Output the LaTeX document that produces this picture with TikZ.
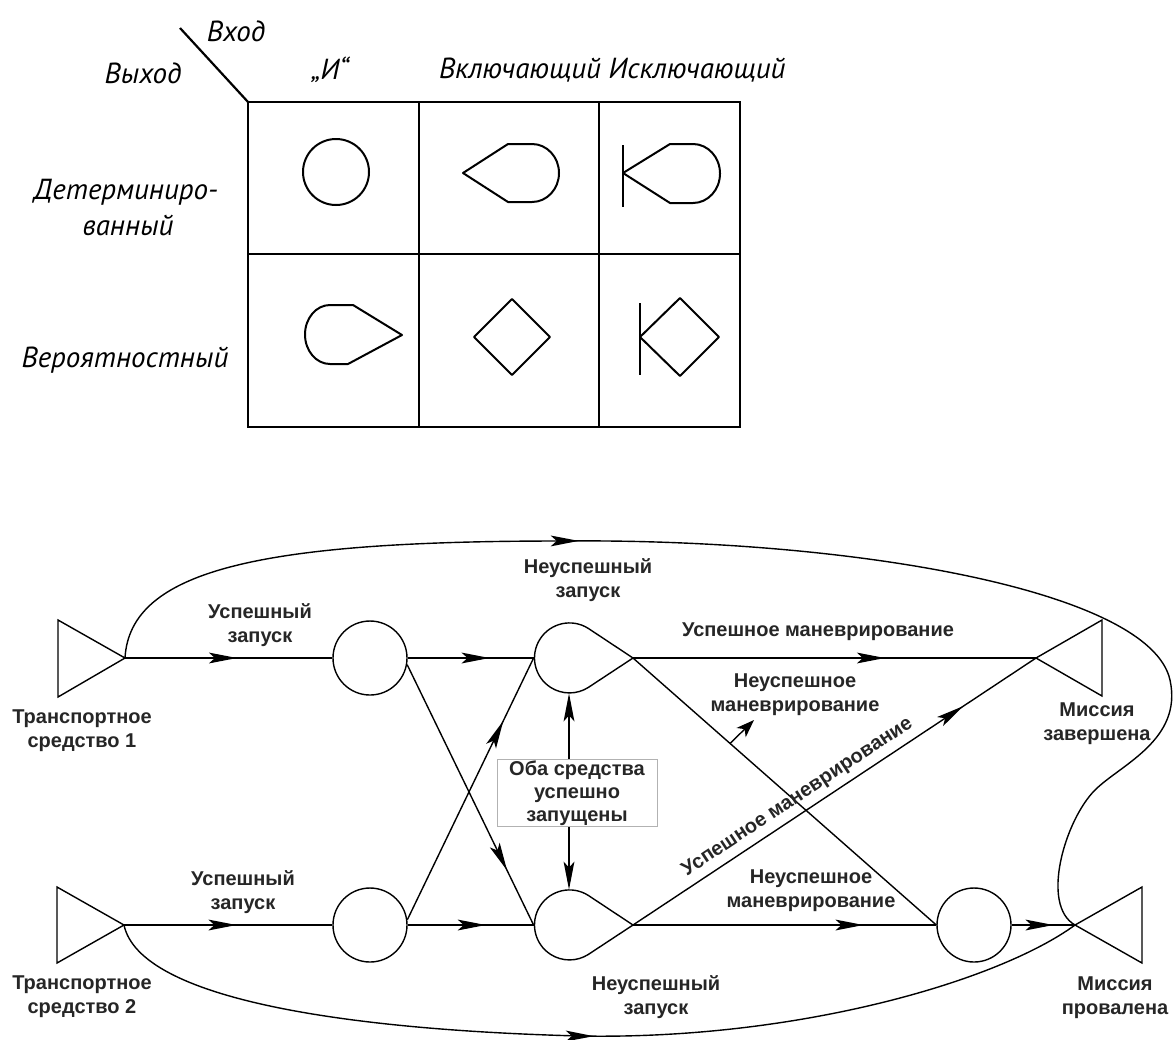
\documentclass[tikz,border=0pt]{standalone}
\usepackage{fontspec}
\setmainfont{Liberation Sans}
\newfontfamily\draftfont{PT Sans}
\usetikzlibrary{arrows.meta,decorations.markings,calc}

\begin{document}
\begin{tikzpicture}[x=0.5pt,y=-0.5pt,
  hdr/.style={font=\draftfont\itshape\fontsize{14.5}{17}\selectfont, inner sep=0},
  lbl/.style={font=\bfseries\fontsize{10}{12}\selectfont, text=black!85, align=center, inner sep=0},
  gridln/.style={line width=1.1pt},
  symln/.style={line width=1pt, line join=round},
  ln/.style={line width=0.7pt},
  headtip/.style={-{Stealth[length=14pt,width=5.4pt,inset=3pt]}},
  marr/.style={postaction={decorate}, decoration={markings,
      mark=at position #1 with {\arrow{Stealth[length=14pt,width=5.4pt,inset=3pt]}}}},
  gatec/.style={circle, inner sep=0, minimum size=#1}
]
\fill[white] (0,0) rectangle (1176,1039);
\useasboundingbox (0,0) rectangle (1176,1039);

% ---------- classification table ----------
\draw[gridln] (248,102) rectangle (740,427);
\draw[gridln] (419,102) -- (419,427);
\draw[gridln] (599,102) -- (599,427);
\draw[gridln] (248,254) -- (740,254);
\draw[gridln] (180,28) -- (248,102);

\node[hdr] (hin)  at (236,31) {Вход};
\node[hdr] (hout) at (143,73) {Выход};
\node[hdr] (hand) at (330,70) {„И“};
\node[hdr] (hinc) at (520,70) {Включающий};
\node[hdr] (hexc) at (697,70) {Исключающий};
\node[hdr] (rdet1) at (126,192) {Детерминиро-};
\node[hdr] (rdet2) at (128,225) {ванный};
\node[hdr] (rprob) at (125,360) {Вероятностный};

% deterministic AND
\draw[symln] (336,172) circle[radius=33];
% deterministic inclusive OR
\draw[symln] (463,173) -- (508,144) -- (532,144)
  arc[start angle=270, end angle=450, x radius=27, y radius=29] -- (508,202) -- cycle;
% deterministic exclusive OR
\draw[symln] (623,145) -- (623,207);
\draw[symln] (623,173) -- (670,144) -- (693,144)
  arc[start angle=270, end angle=450, x radius=27, y radius=29.5] -- (670,203) -- cycle;
% probabilistic AND
\draw[symln] (402,335) -- (353,305) -- (330,305)
  arc[start angle=270, end angle=90, x radius=25, y radius=29.5] -- (348,364) -- cycle;
% probabilistic inclusive OR
\draw[symln] (474,337) -- (512,299) -- (550,337) -- (512,375) -- cycle;
% probabilistic exclusive OR
\draw[symln] (640,303) -- (640,375);
\draw[symln] (640,337) -- (680,298) -- (719,337) -- (680,376) -- cycle;

% ---------- mission network ----------
% terminal triangles
\draw[ln] (58,620) -- (125,658) -- (58,697) -- cycle;
\coordinate (V1) at (125,658);
\draw[ln] (57,887) -- (124,925) -- (57,963) -- cycle;
\coordinate (V2) at (124,925);
\draw[ln] (1102,620) -- (1036,658) -- (1102,696) -- cycle;
\coordinate (MC) at (1036,658);
\draw[ln] (1142,887) -- (1075,925) -- (1142,963) -- cycle;
\coordinate (MF) at (1075,925);

% AND nodes
\node[gatec=37pt, draw, ln] (C1) at (370,658) {};
\node[gatec=37pt, draw, ln] (C3) at (370,925) {};
\node[gatec=37pt, draw, ln] (C4) at (974,925) {};

% probabilistic AND nodes (teardrops pointing right)
\node[gatec=35pt] (G1) at (569,658) {};
\coordinate (G1t) at (633,658);
\draw[ln] (G1t) -- (588.3,628.4) arc[start angle=-57.5, end angle=-302.5, radius=35] -- cycle;
\node[gatec=35pt] (G2) at (569,925) {};
\coordinate (G2t) at (633,925);
\draw[ln] (G2t) -- (588.3,895.4) arc[start angle=-57.5, end angle=-302.5, radius=35] -- cycle;

% flows
\draw[ln, marr=0.54] (V1) -- (C1);
\draw[ln, marr=0.65] (C1) -- (G1.west);
\draw[ln, marr=0.54] (V2) -- (C3);
\draw[ln, marr=0.62] (C3) -- (G2.west);
\draw[ln, marr=0.79] (C1.-10) -- (G2.west);
\draw[ln, marr=0.76] (C3.8) -- (G1.west);
\draw[ln, marr=0.625] (G1t) -- (MC);
\draw[ln] (G1t) -- (C4.west);
\draw[ln, marr=0.76] (G2t) -- (C4);
\draw[ln, marr=0.66] (C4) -- (MF);
\draw[ln, marr=0.82] (G2t) -- (MC)
  node[lbl, sloped, above=3pt, pos=0.43] (lsm) {Успешное маневрирование};

% both vehicles launched
\node[lbl, draw=black!30, line width=0.5pt, minimum width=80pt, minimum height=33.5pt,
      font=\bfseries\fontsize{10}{11.5}\selectfont] (both) at (577,793)
  {Оба средства\\успешно\\запущены};
\draw[ln, headtip] (G1.south |- both.north) -- (G1.south);
\draw[ln, headtip] (G2.north |- both.south) -- (G2.north);

% pointer from the failed-manoeuvre branch to its label
\coordinate (lp) at ($(G1t)!0.32!(C4.west)$);
\coordinate (lq) at (754,720);
\draw[ln, -{Stealth[length=9pt,width=6.5pt,inset=2.5pt]}] (lp) -- (lq);

% long loops to the terminal states
\draw[ln, marr=250pt] (V1) .. controls (130,570) and (260,541) .. (560,541)
  .. controls (850,538) and (1150,590) .. (1170,680)
  .. controls (1183,740) and (1120,765) .. (1095,790)
  .. controls (1065,820) and (1040,905) .. (MF);
\draw[ln, marr=250pt] (V2) .. controls (140,1000) and (350,1030) .. (580,1036)
  .. controls (800,1040) and (1000,980) .. (MF);

% labels
\node[lbl] (l1) at (260,625) {Успешный\\запуск};
\node[lbl] (l2) at (82,731) {Транспортное\\средство 1};
\node[lbl] (l3) at (243,892) {Успешный\\запуск};
\node[lbl] (l4) at (82,997) {Транспортное\\средство 2};
\node[lbl] (l5) at (588,580) {Неуспешный\\запуск};
\node[lbl] (l6) at (656,997) {Неуспешный\\запуск};
\node[lbl] (l7) at (818,632) {Успешное маневрирование};
\node[lbl] (l8) at (795,695) {Неуспешное\\маневрирование};
\node[lbl] (l9) at (1097,724) {Миссия\\завершена};
\node[lbl] (l10) at (1115,998) {Миссия\\провалена};
\node[lbl] (l11) at (811,891) {Неуспешное\\маневрирование};
\end{tikzpicture}
\end{document}
